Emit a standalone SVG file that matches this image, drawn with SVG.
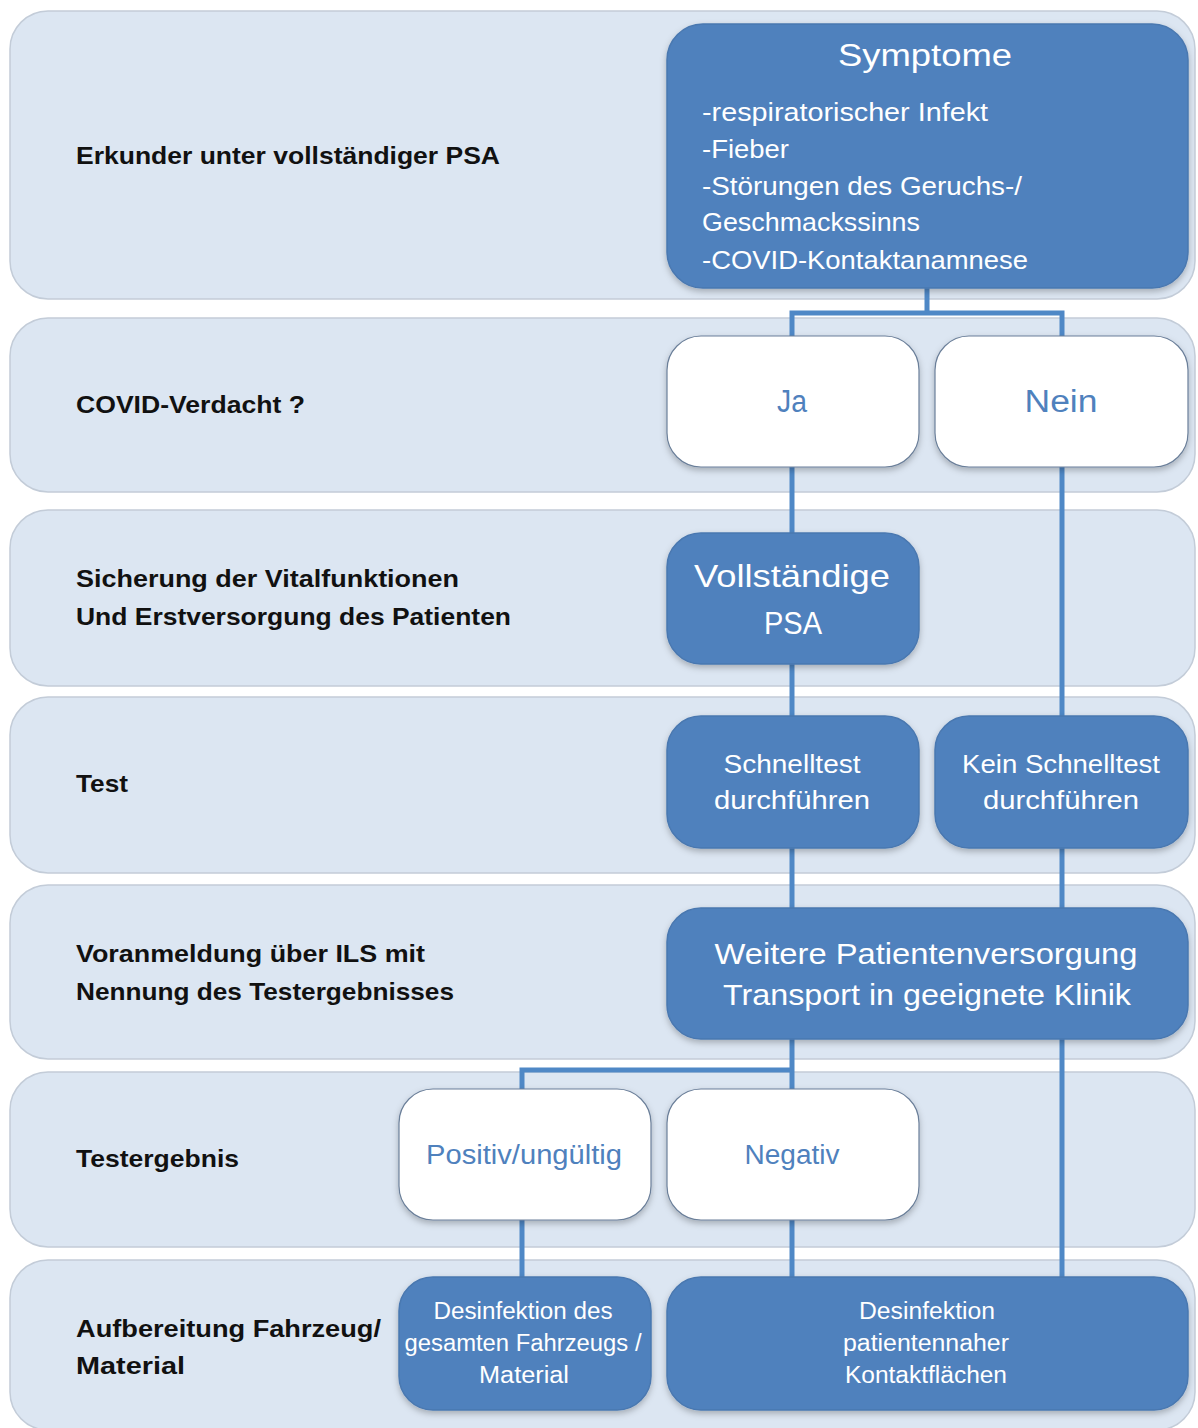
<svg xmlns="http://www.w3.org/2000/svg" width="1198" height="1428" viewBox="0 0 1198 1428">
<defs>
<filter id="sh" x="-10%" y="-10%" width="120%" height="125%">
<feDropShadow dx="0" dy="3" stdDeviation="3" flood-color="#000" flood-opacity="0.25"/>
</filter>
<style>
.band{fill:#dce6f2;stroke:#c3ccd8;stroke-width:1.5}
.dark{fill:#4f81bd;stroke:#4a78b0;stroke-width:1.5}
.light{fill:#ffffff;stroke:#6b7f99;stroke-width:1.2}
.lbl{font-family:"Liberation Sans",Arial,sans-serif;font-weight:bold;font-size:24px;fill:#111}
.wt{font-family:"Liberation Sans",Arial,sans-serif;fill:#ffffff}
.bt{font-family:"Liberation Sans",Arial,sans-serif;fill:#4f81bd}
.con{fill:none;stroke:#4f88c6;stroke-width:5}
</style>
</defs>
<rect width="1198" height="1428" fill="#ffffff"/>
<g id="bands">
<rect class="band" x="10" y="11" width="1185" height="288" rx="38"/>
<rect class="band" x="10" y="318" width="1185" height="174" rx="38"/>
<rect class="band" x="10" y="510" width="1185" height="176" rx="38"/>
<rect class="band" x="10" y="697" width="1185" height="176" rx="38"/>
<rect class="band" x="10" y="885" width="1185" height="174" rx="38"/>
<rect class="band" x="10" y="1072" width="1185" height="175" rx="38"/>
<rect class="band" x="10" y="1260" width="1185" height="170" rx="38"/>
</g>
<g id="labels">
<text class="lbl" x="76" y="164" textLength="424" lengthAdjust="spacingAndGlyphs">Erkunder unter vollständiger PSA</text>
<text class="lbl" x="76" y="413" textLength="229" lengthAdjust="spacingAndGlyphs">COVID-Verdacht ?</text>
<text class="lbl" x="76" y="587" textLength="383" lengthAdjust="spacingAndGlyphs">Sicherung der Vitalfunktionen</text>
<text class="lbl" x="76" y="625" textLength="435" lengthAdjust="spacingAndGlyphs">Und Erstversorgung des Patienten</text>
<text class="lbl" x="76" y="792" textLength="52" lengthAdjust="spacingAndGlyphs">Test</text>
<text class="lbl" x="76" y="962" textLength="349" lengthAdjust="spacingAndGlyphs">Voranmeldung über ILS mit</text>
<text class="lbl" x="76" y="1000" textLength="378" lengthAdjust="spacingAndGlyphs">Nennung des Testergebnisses</text>
<text class="lbl" x="76" y="1167" textLength="163" lengthAdjust="spacingAndGlyphs">Testergebnis</text>
<text class="lbl" x="76" y="1337" textLength="305" lengthAdjust="spacingAndGlyphs">Aufbereitung Fahrzeug/</text>
<text class="lbl" x="76" y="1374" textLength="109" lengthAdjust="spacingAndGlyphs">Material</text>
</g>
<g id="connectors">
<path class="con" d="M927 288 V313 M792 336 V313 H1062 V336"/>
<path class="con" d="M792 467 V533"/>
<path class="con" d="M792 664 V716"/>
<path class="con" d="M1062 467 V716"/>
<path class="con" d="M792 848 V908"/>
<path class="con" d="M1062 848 V908"/>
<path class="con" d="M792 1039 V1070 M522 1089 V1070 H792 V1089"/>
<path class="con" d="M1062 1039 V1277"/>
<path class="con" d="M522 1220 V1277"/>
<path class="con" d="M792 1220 V1277"/>
</g>
<g id="symptome">
<rect class="dark" x="667" y="24" width="521" height="264" rx="36" filter="url(#sh)"/>
<text class="wt" x="925" y="66" font-size="31" text-anchor="middle" textLength="174" lengthAdjust="spacingAndGlyphs">Symptome</text>
<text class="wt" x="702" y="121" font-size="25" textLength="286" lengthAdjust="spacingAndGlyphs">-respiratorischer Infekt</text>
<text class="wt" x="702" y="158" font-size="25" textLength="87" lengthAdjust="spacingAndGlyphs">-Fieber</text>
<text class="wt" x="702" y="195" font-size="25" textLength="320" lengthAdjust="spacingAndGlyphs">-Störungen des Geruchs-/</text>
<text class="wt" x="702" y="231" font-size="25" textLength="218" lengthAdjust="spacingAndGlyphs">Geschmackssinns</text>
<text class="wt" x="702" y="269" font-size="25" textLength="326" lengthAdjust="spacingAndGlyphs">-COVID-Kontaktanamnese</text>
</g>
<g id="ja">
<rect class="light" x="667" y="336" width="252" height="131" rx="34" filter="url(#sh)"/>
<text class="bt" x="792" y="412" font-size="31" text-anchor="middle" textLength="30" lengthAdjust="spacingAndGlyphs">Ja</text>
</g>
<g id="nein">
<rect class="light" x="935" y="336" width="253" height="131" rx="34" filter="url(#sh)"/>
<text class="bt" x="1061" y="412" font-size="31" text-anchor="middle" textLength="73" lengthAdjust="spacingAndGlyphs">Nein</text>
</g>
<g id="psa">
<rect class="dark" x="667" y="533" width="252" height="131" rx="34" filter="url(#sh)"/>
<text class="wt" x="792" y="587" font-size="32" text-anchor="middle" textLength="196" lengthAdjust="spacingAndGlyphs">Vollständige</text>
<text class="wt" x="793" y="634" font-size="32" text-anchor="middle" textLength="58" lengthAdjust="spacingAndGlyphs">PSA</text>
</g>
<g id="schnelltest">
<rect class="dark" x="667" y="716" width="252" height="132" rx="34" filter="url(#sh)"/>
<text class="wt" x="792" y="773" font-size="26" text-anchor="middle" textLength="137" lengthAdjust="spacingAndGlyphs">Schnelltest</text>
<text class="wt" x="792" y="809" font-size="26" text-anchor="middle" textLength="156" lengthAdjust="spacingAndGlyphs">durchführen</text>
</g>
<g id="kein-schnelltest">
<rect class="dark" x="935" y="716" width="253" height="132" rx="34" filter="url(#sh)"/>
<text class="wt" x="1061" y="773" font-size="26" text-anchor="middle" textLength="198" lengthAdjust="spacingAndGlyphs">Kein Schnelltest</text>
<text class="wt" x="1061" y="809" font-size="26" text-anchor="middle" textLength="156" lengthAdjust="spacingAndGlyphs">durchführen</text>
</g>
<g id="weitere">
<rect class="dark" x="667" y="908" width="521" height="131" rx="34" filter="url(#sh)"/>
<text class="wt" x="926" y="964" font-size="30" text-anchor="middle" textLength="423" lengthAdjust="spacingAndGlyphs">Weitere Patientenversorgung</text>
<text class="wt" x="927" y="1005" font-size="30" text-anchor="middle" textLength="408" lengthAdjust="spacingAndGlyphs">Transport in geeignete Klinik</text>
</g>
<g id="positiv">
<rect class="light" x="399" y="1089" width="252" height="131" rx="34" filter="url(#sh)"/>
<text class="bt" x="524" y="1164" font-size="27" text-anchor="middle" textLength="196" lengthAdjust="spacingAndGlyphs">Positiv/ungültig</text>
</g>
<g id="negativ">
<rect class="light" x="667" y="1089" width="252" height="131" rx="34" filter="url(#sh)"/>
<text class="bt" x="792" y="1164" font-size="27" text-anchor="middle" textLength="95" lengthAdjust="spacingAndGlyphs">Negativ</text>
</g>
<g id="desinf-gesamt">
<rect class="dark" x="399" y="1277" width="252" height="133" rx="34" filter="url(#sh)"/>
<text class="wt" x="523" y="1319" font-size="23" text-anchor="middle" textLength="179" lengthAdjust="spacingAndGlyphs">Desinfektion des</text>
<text class="wt" x="523" y="1351" font-size="23" text-anchor="middle" textLength="237" lengthAdjust="spacingAndGlyphs">gesamten Fahrzeugs /</text>
<text class="wt" x="524" y="1383" font-size="23" text-anchor="middle" textLength="90" lengthAdjust="spacingAndGlyphs">Material</text>
</g>
<g id="desinf-kontakt">
<rect class="dark" x="667" y="1277" width="521" height="133" rx="34" filter="url(#sh)"/>
<text class="wt" x="927" y="1319" font-size="23" text-anchor="middle" textLength="136" lengthAdjust="spacingAndGlyphs">Desinfektion</text>
<text class="wt" x="926" y="1351" font-size="23" text-anchor="middle" textLength="166" lengthAdjust="spacingAndGlyphs">patientennaher</text>
<text class="wt" x="926" y="1383" font-size="23" text-anchor="middle" textLength="162" lengthAdjust="spacingAndGlyphs">Kontaktflächen</text>
</g>
</svg>
